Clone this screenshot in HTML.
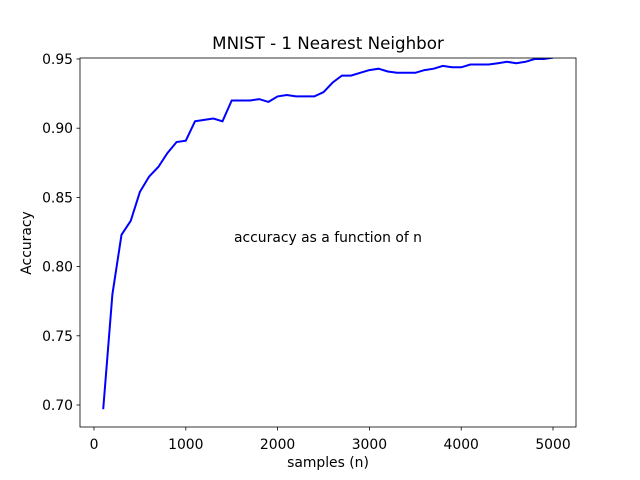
<!DOCTYPE html>
<html><head><meta charset="utf-8"><style>
body{margin:0;background:#fff;}
svg{display:block;font-family:"DejaVu Sans","Liberation Sans",sans-serif;}
</style></head><body>
<svg id="chart" width="640" height="480">
<defs><clipPath id="clip"><rect x="80" y="58" width="496" height="369"/></clipPath></defs>
<rect x="0" y="0" width="640" height="480" fill="#fff"/>
<text x="328" y="49" text-anchor="middle" font-size="16.7">MNIST - 1 Nearest Neighbor</text>
<g id="xticks"></g>
<g id="yticks"></g>
<path id="line" fill="none" stroke="#0000ff" stroke-width="2" clip-path="url(#clip)"/>
<rect x="80" y="58" width="496" height="369" fill="none" stroke="#000" stroke-width="0.8"/>
<text x="328" y="242" text-anchor="middle" font-size="13.9">accuracy as a function of n</text>
<text x="328" y="467" text-anchor="middle" font-size="13.9">samples (n)</text>
<text x="31" y="243" text-anchor="middle" font-size="13.9" transform="rotate(-90 31 243)">Accuracy</text>
</svg>
<script>
const samples = [100,200,300,400,500,600,700,800,900,1000,1100,1200,1300,1400,1500,1600,1700,1800,1900,2000,2100,2200,2300,2400,2500,2600,2700,2800,2900,3000,3100,3200,3300,3400,3500,3600,3700,3800,3900,4000,4100,4200,4300,4400,4500,4600,4700,4800,4900,5000];
const accuracy = [0.697,0.780,0.823,0.833,0.854,0.865,0.872,0.882,0.890,0.891,0.905,0.906,0.907,0.905,0.920,0.920,0.920,0.921,0.919,0.923,0.924,0.923,0.923,0.923,0.926,0.933,0.938,0.938,0.940,0.942,0.943,0.941,0.940,0.940,0.940,0.942,0.943,0.945,0.944,0.944,0.946,0.946,0.946,0.947,0.948,0.947,0.948,0.950,0.950,0.951];
const xTickValues = [0,1000,2000,3000,4000,5000];
const yTickValues = [0.70,0.75,0.80,0.85,0.90,0.95];
const NS="http://www.w3.org/2000/svg";
function xs(v){return 94+v*0.0918;}
function ys(v){return 59+(0.95-v)*1384;}
const d = samples.map((n,i)=>(i?'L':'M')+xs(n).toFixed(1)+' '+ys(accuracy[i]).toFixed(1)).join(' ');
document.getElementById('line').setAttribute('d', d);
const xg=document.getElementById('xticks');
xTickValues.forEach(v=>{
  const l=document.createElementNS(NS,'line');
  l.setAttribute('x1',xs(v));l.setAttribute('x2',xs(v));l.setAttribute('y1',427);l.setAttribute('y2',430.5);l.setAttribute('stroke','#000');l.setAttribute('stroke-width','0.8');
  
  
  xg.appendChild(l);
  const t=document.createElementNS(NS,'text');
  t.setAttribute('x',xs(v));t.setAttribute('y',449);t.setAttribute('text-anchor','middle');t.setAttribute('font-size','13.9');
  t.textContent=v;
  
  
  xg.appendChild(t);
});
const yg=document.getElementById('yticks');
yTickValues.forEach(v=>{
  const l=document.createElementNS(NS,'line');
  l.setAttribute('x1',76.5);l.setAttribute('x2',80);l.setAttribute('y1',ys(v));l.setAttribute('y2',ys(v));l.setAttribute('stroke','#000');l.setAttribute('stroke-width','0.8');
  
  
  yg.appendChild(l);
  const t=document.createElementNS(NS,'text');
  t.setAttribute('x',73);t.setAttribute('y',ys(v)+5);t.setAttribute('text-anchor','end');t.setAttribute('font-size','13.9');
  t.textContent=v.toFixed(2);
  
  
  yg.appendChild(t);
});
</script>
</body></html>
